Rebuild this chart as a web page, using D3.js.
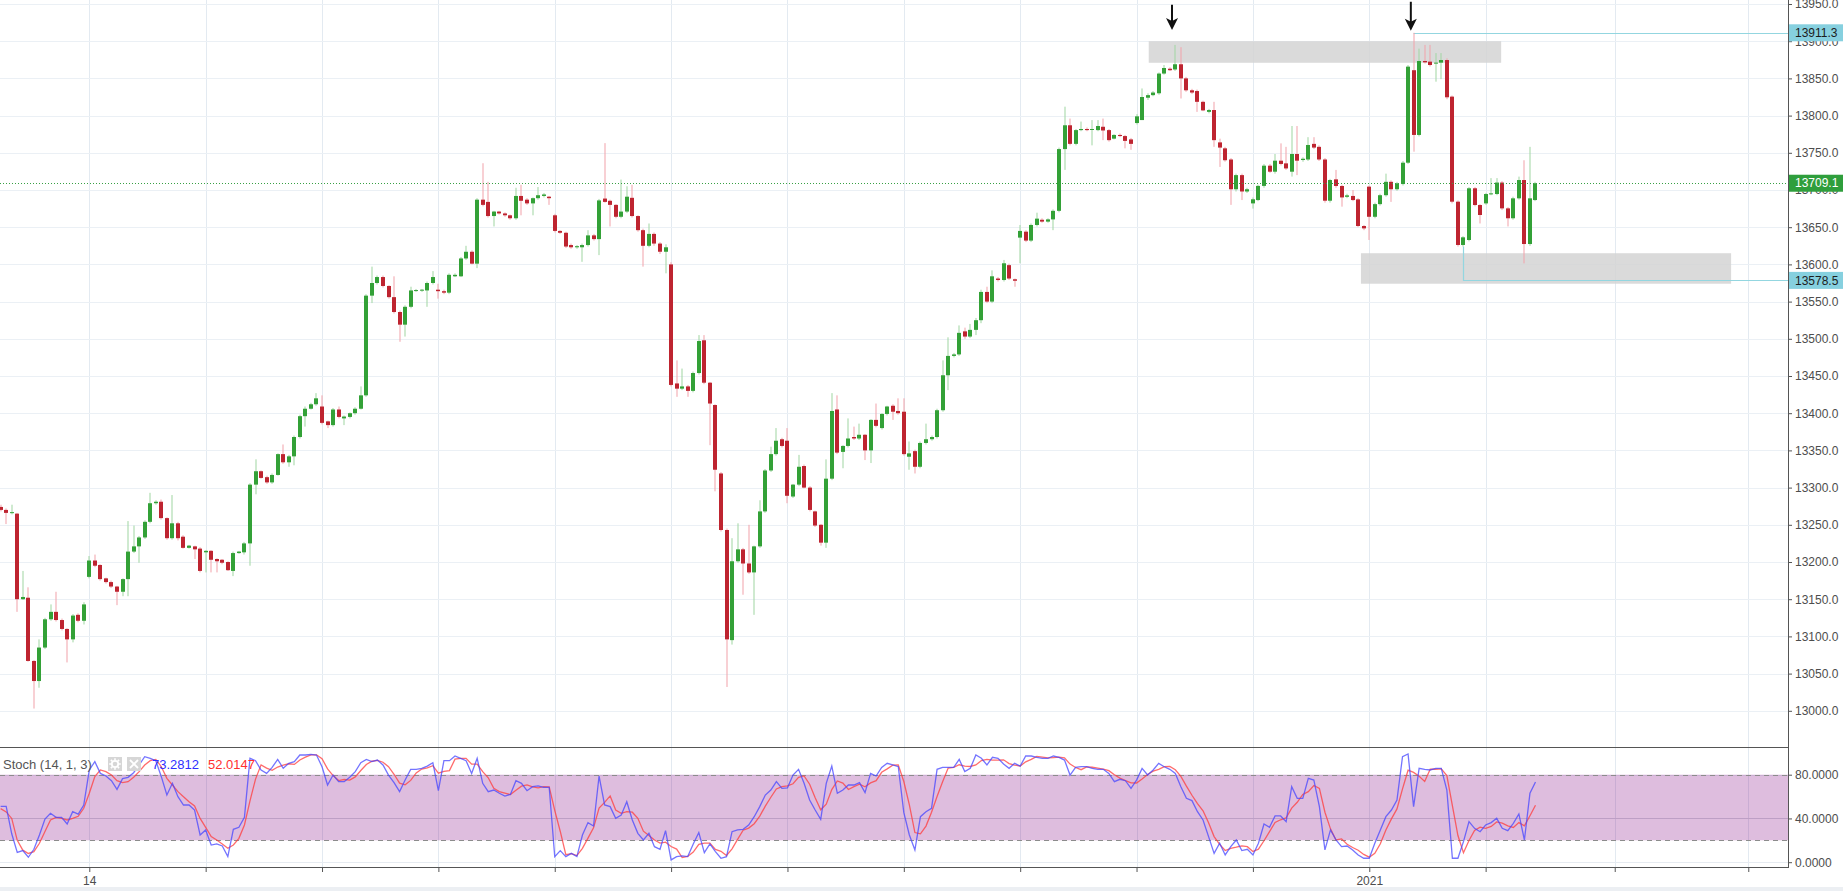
<!DOCTYPE html>
<html><head><meta charset="utf-8">
<script src="https://cdn.jsdelivr.net/npm/d3@7"></script>
<style>html,body{margin:0;padding:0;background:#fff;overflow:hidden}svg{display:block}</style>
</head><body>
<svg id="c" width="1843" height="891"></svg>
<script>
// ---------- DATA (hourly candles) ----------
const open = [
13274,13270,13266,13265,13150,13152,13067,13040,13085,13123,
13133,13122,13110,13096,13129,13121,13180,13202,13196,13178,
13173,13167,13160,13177,13214,13221,13233,13254,13279,13281,
13259,13232,13252,13234,13219,13221,13218,13213,13215,13204,
13203,13200,13188,13212,13213,13225,13304,13322,13314,13307,
13317,13345,13334,13342,13368,13396,13406,13412,13409,13389,
13384,13405,13393,13395,13400,13406,13424,13558,13575,13583,
13571,13556,13536,13519,13543,13565,13565.5,13565,13575,13566,
13564,13562,13584,13584,13608,13617,13601,13687,13684,13665,
13671,13668.5,13666,13662,13692,13687,13682,13689,13692,13691,
13666,13645,13642.5,13626,13623,13623,13626,13639,13634,13688.5,
13685.5,13680,13664,13671,13689.5,13665,13646,13625,13641,13628,
13617,13600,13440,13433,13436,13430,13454,13498,13441,13411,
13319,13243,13095,13201,13217,13198,13186,13221,13268,13323,
13345,13365,13363,13288,13304,13329,13300,13268,13250,13226,
13312,13405,13348,13356,13368,13366,13371,13350,13391,13380,
13399,13410,13403,13402,13341.5,13349,13328,13360,13365,13368,
13404,13451,13477,13479,13510,13503,13512,13525,13563,13550,
13581,13579,13599,13580,13636,13644,13632,13653,13660,13657.5,
13660.5,13672,13755,13787,13762,13780.5,13782,13781,13780.5,13785,
13780.5,13769,13774,13772.5,13768,13790,13794,13824,13827.5,13830,
13856.5,13863,13862,13869,13850,13834,13833,13818.5,13805,13807.5,
13764,13756,13741,13701,13720,13698,13682,13686.5,13705.5,13732.7,
13724.6,13739.4,13735.8,13724.6,13748.4,13740.3,13741,13762,13758,13741,
13685.6,13714.3,13705.4,13690.8,13692,13687.4,13651.6,13704.5,13664,13681,
13693,13711,13701,13708,13736.7,13861,13774,13873.4,13872.5,13870.3,
13871.2,13874.7,13825.5,13684.3,13626.1,13632.8,13702.3,13679.8,13682,13694.6,
13694.6,13710,13675.3,13662,13688.8,13713.4,13627.4,13686.5];
const high = [
13277,13272,13277,13266,13188,13166,13068,13096,13125,13143,
13160,13124,13111,13130,13131,13146,13208,13210,13197,13179,
13175,13168,13178,13255,13249,13235,13256,13293,13283,13284,
13260,13290,13254,13236,13223,13222,13220,13216,13216,13205,
13204,13201,13214,13215,13227,13306,13338,13323,13316,13319,
13346,13358,13344,13370,13398,13409,13414,13427,13424,13390,
13407,13409,13397,13401,13408,13436,13560,13597,13585,13585,
13572,13584,13538,13545,13570,13567,13567,13577,13591,13574,
13566,13588,13588,13610,13625,13619,13689,13736,13711,13672,
13672,13670,13667,13703,13707,13689,13690,13704,13696,13692,
13668,13646,13644,13628,13626,13628,13646,13641,13688,13763,
13687,13681,13714,13705,13707,13666,13648,13655,13643,13630,
13627,13603,13471,13460,13438,13456,13505,13505,13442,13412,
13321,13245,13232,13252,13219,13250,13222,13283,13325,13355,
13380,13367,13380,13305,13344,13331,13302,13269,13251,13338,
13427,13424,13357,13393,13382,13386,13372,13392,13413,13400,
13410,13412,13420,13420,13362,13351,13362,13386,13370,13406,
13471,13502,13481,13518,13515,13520,13528,13566,13570,13592,
13583,13606,13601,13581,13653,13646,13655,13669.5,13662,13662,
13674,13757,13812,13796,13782,13792,13784,13794,13794,13796,
13782,13775,13776,13774,13770,13802,13836.5,13830,13833,13858,
13868,13865,13895,13892,13852,13836,13835,13820,13809,13818.5,
13769,13758,13743,13722,13722,13703,13690,13707,13735,13735,
13748.4,13762.7,13758,13786,13786,13744,13771,13771,13760,13743,
13715,13727,13707,13695,13700,13689,13653,13706,13683,13695,
13722,13713,13711,13739,13868,13911.3,13890,13895,13895,13884,
13884,13877,13827,13686,13638,13704,13704,13681,13696,13716,
13716,13712,13677,13691,13718,13740,13758,13711];
const low = [
13268,13251,13264,13133,13149,13066,13003,13031,13083,13121,
13120,13108,13065,13092,13119,13116,13178,13193,13175,13171,
13165,13142,13154,13154,13212,13199,13231,13252,13277,13257,
13230,13230,13229,13218,13218,13204,13186,13186,13186,13186,
13197,13188,13181,13211,13210,13195,13291,13312,13305,13305,
13316,13332,13328,13330,13366,13382,13405,13410,13385,13380,
13382,13393,13384,13393,13398,13405,13422,13548,13573,13569,
13554,13534,13496,13503,13541,13563,13563,13543,13573,13554,
13560,13560,13583,13583,13606,13600,13595,13678,13663,13651,
13667,13664,13660,13660,13666,13680,13666,13687,13690,13680,
13643,13641,13622,13621,13621,13603.5,13624,13632,13612.5,13683,
13651,13662,13662,13669,13663,13644,13597,13623,13625,13614,
13588,13436,13422,13431,13422,13428,13452,13439,13357,13295,
13241,13032,13089,13199,13156,13184,13129,13219,13266,13321,
13343,13354,13279,13286,13302,13299,13268,13247,13222,13219,
13310,13345,13326,13354,13364,13364,13337,13333,13381,13378,
13397,13391,13398,13343,13324,13319,13326,13358,13363,13366,
13402,13431,13475,13477,13500,13501,13505,13521,13548,13548,
13577,13577,13579,13570,13601.5,13630,13630,13651,13656,13656,
13646,13670,13727,13760,13760,13779,13779,13760,13779,13767,
13765,13768,13771,13756,13754,13788,13794,13821,13826,13828,
13855,13860,13860,13823,13832,13829,13805,13806,13803,13758,
13731,13738,13680,13698,13686.5,13696,13675,13685,13703,13723,
13722,13733,13727,13718,13720,13738,13739,13755,13739,13683,
13683,13703,13677.6,13689,13685,13650,13646,13632.8,13662,13679,
13691,13684,13699,13706,13735,13751.5,13772,13870,13866,13845.6,
13849,13822,13682,13624,13624,13631,13678,13655,13680,13693,
13693,13673,13651,13660,13687,13601.4,13625,13685];
const close = [
13270,13266,13267,13150,13153,13067,13040,13085,13123,13133,
13122,13110,13096,13128,13121,13143,13202,13195,13177,13173,
13167,13160,13177,13214,13221,13233,13254,13279,13281,13259,
13232,13252,13232,13219,13222,13217,13188,13215,13203,13201,
13199,13189,13212,13214,13225,13304,13322,13313,13307,13317,
13345,13334,13342,13368,13396,13406,13412,13420,13387,13384,
13405,13395,13395.5,13400,13406,13424,13558,13575,13583,13571,
13556,13536,13519,13543,13565,13565.5,13566,13575,13583,13564,
13562,13586,13586,13608,13617,13601,13687,13680,13665,13671,
13668.5,13666,13662,13692,13685.5,13682,13689,13693,13694,13689,
13645,13642.5,13624,13623,13624.5,13626,13639,13634,13686,13684,
13680,13664,13671,13691,13665,13646,13625,13641,13628,13617,
13623,13438,13433,13436,13430,13454,13497,13441,13413,13324,
13243,13096,13201,13217,13198,13186,13221,13268,13323,13345,
13363,13356,13289,13304,13328,13300,13270,13249,13226,13312,
13403,13347,13356,13366,13366,13371,13350,13391,13383,13399,
13409,13402,13400,13345,13346,13328,13360,13365,13368,13404,
13451,13477,13479,13508,13503,13512,13525,13563,13550,13584,
13579,13601.5,13581,13578,13645,13632,13653,13661.5,13657.5,13660.5,
13672,13755,13787,13762,13780.5,13782,13780.5,13782,13786,13780,
13767,13774,13772.5,13766,13762,13799,13825,13827.5,13831,13856.5,
13864,13861,13869,13850,13834,13831,13818.5,13807,13807.5,13767,
13757,13740,13701,13720,13698,13701,13687.5,13705.5,13732.7,13724.6,
13739.4,13735,13729,13748.4,13739.4,13742,13760.5,13757,13741,13685.6,
13713.4,13705.4,13690,13692.8,13686.5,13651.6,13648.4,13664,13681,13693,
13711,13701,13709,13736.7,13865.8,13774,13873.4,13871.6,13868,13871.2,
13874.7,13824.6,13684.3,13626.1,13636.4,13702.3,13679.8,13666.4,13694.6,13695.5,
13710,13675.3,13662,13688.8,13713.4,13627.4,13688.8,13709.1];
const stochK = [
51,51,26,9,10.6,4.5,11.8,24.9,39.5,44.7,
41,41,35,46.2,44,52.3,84.3,91.9,81.2,78.8,
74.5,66.6,76.4,77.6,81.8,88.9,96.5,95,92.8,78.2,
61.4,72.1,59.9,52.3,52.3,47.7,24.9,29.5,15.7,16.7,
14.8,5.1,30.1,31.9,41,95,92.8,84.3,81.2,86.7,
94,85.8,90.4,91.9,98,98,98.6,98,87.3,70.6,
79.7,73.6,73.6,77.6,82.8,91,94,91.9,93.4,88.9,
79.7,72.7,64.5,75.1,84.9,84.9,85.8,87.9,91,65.4,
92.8,92.8,97.1,95,92.8,81.2,95,72.1,64.5,66,
63,60.5,62,74.5,72.1,65.4,69,69.7,68.5,68.5,
5.1,10.6,5.1,8.1,5.1,24.9,36.2,33.1,78.8,52.3,
50.8,40.1,43.2,55.3,38.6,26.4,20.3,26.4,14.2,11.8,
28.9,2.1,5.1,5.7,5.1,16.7,27.1,8.7,16.7,9.7,
3.6,5,27.9,29.5,30.1,34,41.6,50.8,61.4,66,
73.6,67.5,68,79.7,84.9,72.1,56.9,47.7,39.2,72.1,
87.9,63,66,70.6,70.6,72.7,63.6,81.2,78.8,86.7,
90.4,88.9,87.3,45.3,24.9,11.2,41.6,46.2,49.3,84.9,
86.7,86.7,86.7,94,82.8,85.8,98,95,88.9,95.9,
95,89.8,85.8,90.4,87.9,97.1,97.1,95.9,95,95,
97.1,95.9,93.4,79.7,86.7,87.3,87.3,85.8,84.9,84.9,
81.2,73.6,75.8,74.5,67.5,75.1,85.8,79.7,84.3,90.4,
87.3,84.9,81.2,69,58.4,56.3,46.2,38.6,23.4,8.1,
17.3,6.6,14.2,20.3,10.6,11.8,6.6,17.3,34.9,31.9,
42.3,42.3,37.1,69,58.4,58.4,76.7,75.1,50.8,11.2,
29.5,20.3,14.2,14.8,11.2,6.6,3.6,3.6,17.3,29.5,
41.6,47.7,56.9,96.5,98.9,50.8,85.8,84.9,84.3,85.8,
85.8,66,3.6,3.6,18.8,37.1,31,27.9,34,36.2,
40.1,31,28.9,35.5,44.1,20.3,63,73.2812];
const stochD = [
49,46,40,20,11,8,9.7,17.3,28,38.6,
41,40,38.6,40,42,49.3,63,78.2,84.3,82.8,
79.7,74.5,72.7,73.6,77.6,82.8,88.9,92.8,94,87.3,
76.7,70.6,64.5,59.9,55.3,51.4,40,31.9,23.4,20.3,
16.7,12.7,15.7,21.8,34,56,76,89,86,84,
87,88.8,90,89.4,93.4,96,98.2,98.2,94.6,85.3,
79.2,74.6,75.6,75,78,83.8,89.3,92.3,93.1,91.4,
87.3,80.4,72.3,70.8,74.8,81.6,85.2,86.2,88.2,81.4,
83,83.7,94.2,95,95,89.7,89.7,82.8,77.2,67.5,
64.5,63.2,61.8,65.7,69.5,70.7,68.8,68,69,68.9,
47.4,28.1,6.9,7.9,6.1,12.7,22,31.4,49.4,54.7,
60.6,47.7,44.7,46.2,45.7,40.1,28.4,24.4,20.3,17.5,
18.3,14.3,12,4.3,5.3,9.2,16.3,17.5,17.5,11.7,
10,6.1,12.2,20.8,29.2,31.2,35.2,42.1,51.3,59.4,
67,69,69.7,71.7,77.5,78.9,71.3,58.9,47.9,53,
66.4,74.3,72.3,66.5,69.1,71.3,69,72.5,74.5,82.2,
85.3,88.7,88.9,73.8,52.5,27.1,25.9,33,45.7,60.1,
73.6,86.1,86.7,89.1,87.8,87.5,88.9,92.9,94,93.3,
93.3,93.6,90.2,88.7,88,91.8,94,96.7,96,95.3,
95.7,96,95.5,89.7,86.6,84.6,87.1,86.8,86,85.2,
83.7,79.9,76.9,74.6,72.6,72.4,76.1,80.2,83.3,84.8,
87.3,87.5,84.5,78.4,69.5,61.2,53.6,47,36.1,23.4,
16.3,10.7,12.7,13.7,15,14.2,9.7,11.9,19.6,28,
36.4,38.8,40.6,49.5,54.8,61.9,64.5,70.1,67.5,45.7,
30.5,20.3,21.3,16.4,13.4,10.9,7.1,4.6,8.2,16.8,
29.5,39.6,48.7,67,84.1,82.1,78.5,73.8,85,85,
85.3,79.2,51.8,24.4,8.7,19.8,29,32,31,32.7,
36.8,35.8,33.3,31.8,36.2,33.3,42.5,52.0147];

const priceTicks = d3.range(13000, 13951, 50);
const stochTicks = [0, 40, 80];
const stochBand = [20, 80];
// bar index where each trading day starts (last two are in the empty future area)
const dayStarts = [16,37,58,79,100,121,142,163,184,205,226,247,268,291.3,315.4];
const dayLabels = {16: "14", 247: "2021"};
// drawn annotations (bar index range, price range)
const zones = [{i0:207.2, i1:270.8, p0:13900, p1:13871},
               {i0:245.5, i1:312.3, p0:13615, p1:13574}];
const arrows = [{i:211.4, top:13949, tip:13915}, {i:254.5, top:13953, tip:13914}];
const highMark = {i:255, p:13911.3};
const lowMark = {i:264, from:13624, p:13578.5};
const lastPrice = 13709.1;
const stochLast = {k:"73.2812", d:"52.0147"};

// ---------- LAYOUT ----------
const axisX = 1788, mainBottom = 747, stochBottom = 867;
const FONT = '"Liberation Sans", Arial, sans-serif';
const svg = d3.select('#c');

const x = d3.scaleLinear().domain([0, 277]).range([0.64, 0.64 + 277 * 5.541]);
const y = d3.scaleLinear().domain([13000, 13950]).range([710.8, 4]);
const ys = d3.scaleLinear().domain([0, 80]).range([862.2, 774.7]);

const defs = svg.append('defs');
defs.append('clipPath').attr('id', 'clipMain').append('rect')
  .attr('x', 0).attr('y', 0).attr('width', axisX).attr('height', mainBottom);
defs.append('clipPath').attr('id', 'clipStoch').append('rect')
  .attr('x', 0).attr('y', mainBottom).attr('width', axisX).attr('height', stochBottom - mainBottom);

svg.append('rect').attr('width', 1843).attr('height', 891).attr('fill', '#fff');

// grid
const grid = svg.append('g');
grid.selectAll('.vg').data(dayStarts).join('line').attr('class', 'vg')
  .attr('x1', d => Math.round(x(d)) + 0.5).attr('x2', d => Math.round(x(d)) + 0.5)
  .attr('y1', 0).attr('y2', stochBottom).attr('stroke', '#e3eaf1');
grid.selectAll('.hg').data(priceTicks).join('line').attr('class', 'hg')
  .attr('x1', 0).attr('x2', axisX)
  .attr('y1', d => Math.round(y(d)) + 0.5).attr('y2', d => Math.round(y(d)) + 0.5)
  .attr('stroke', '#ebf0f5');
grid.selectAll('.sg').data(stochTicks).join('line').attr('class', 'sg')
  .attr('x1', 0).attr('x2', axisX)
  .attr('y1', d => Math.round(ys(d)) + 0.5).attr('y2', d => Math.round(ys(d)) + 0.5)
  .attr('stroke', '#e6ebf1');

// stoch band
const sp = svg.append('g').attr('clip-path', 'url(#clipStoch)');
sp.append('rect').attr('x', 0).attr('width', axisX)
  .attr('y', ys(stochBand[1])).attr('height', ys(stochBand[0]) - ys(stochBand[1]))
  .attr('fill', 'rgba(128,0,128,0.26)');
sp.append('line').attr('x1', 0).attr('x2', axisX)
  .attr('y1', Math.round(ys(40)) + 0.5).attr('y2', Math.round(ys(40)) + 0.5)
  .attr('stroke', 'rgba(90,60,100,0.12)');
sp.selectAll('.band').data(stochBand).join('line').attr('class', 'band')
  .attr('x1', 0).attr('x2', axisX)
  .attr('y1', d => Math.round(ys(d)) + 0.5).attr('y2', d => Math.round(ys(d)) + 0.5)
  .attr('stroke', '#8c8c8c').attr('stroke-dasharray', '5,4');

// main pane
const mp = svg.append('g').attr('clip-path', 'url(#clipMain)');
mp.selectAll('.zone').data(zones).join('rect').attr('class', 'zone')
  .attr('x', d => x(d.i0)).attr('width', d => x(d.i1) - x(d.i0))
  .attr('y', d => y(d.p0)).attr('height', d => y(d.p1) - y(d.p0))
  .attr('fill', '#d4d4d4').attr('opacity', 0.85);

const cyan = '#93d6e0';
mp.append('line').attr('x1', x(highMark.i)).attr('x2', axisX)
  .attr('y1', Math.round(y(highMark.p)) + 0.5).attr('y2', Math.round(y(highMark.p)) + 0.5)
  .attr('stroke', cyan).attr('stroke-width', 1.2);
mp.append('path')
  .attr('d', `M${Math.round(x(lowMark.i)) + 0.5},${y(lowMark.from)}V${Math.round(y(lowMark.p)) + 0.5}H${axisX}`)
  .attr('fill', 'none').attr('stroke', cyan).attr('stroke-width', 1.2);

const idx = d3.range(open.length);
const up = i => close[i] >= open[i];
const bx = i => Math.round(x(i) - 2);
mp.selectAll('.wick').data(idx).join('rect').attr('class', 'wick')
  .attr('x', i => bx(i) + 1.5).attr('width', 1)
  .attr('y', i => y(high[i])).attr('height', i => Math.max(1, y(low[i]) - y(high[i])))
  .attr('fill', i => up(i) ? '#9fd6a1' : '#f2a2aa');
mp.selectAll('.body').data(idx).join('rect').attr('class', 'body')
  .attr('x', i => bx(i)).attr('width', 4)
  .attr('y', i => y(Math.max(open[i], close[i])))
  .attr('height', i => Math.max(1, Math.abs(y(open[i]) - y(close[i]))))
  .attr('fill', i => up(i) ? '#33a137' : '#be2430');

mp.append('line').attr('x1', 0).attr('x2', axisX)
  .attr('y1', Math.round(y(lastPrice)) + 0.5).attr('y2', Math.round(y(lastPrice)) + 0.5)
  .attr('stroke', '#38a044').attr('stroke-dasharray', '1,2');

// arrows
const ag = mp.selectAll('.arrow').data(arrows).join('g').attr('class', 'arrow');
ag.append('line').attr('x1', d => x(d.i)).attr('x2', d => x(d.i))
  .attr('y1', d => y(d.top)).attr('y2', d => y(d.tip) - 8)
  .attr('stroke', '#111').attr('stroke-width', 2);
ag.append('path')
  .attr('d', d => `M${x(d.i) - 6},${y(d.tip) - 12}L${x(d.i)},${y(d.tip) - 9}L${x(d.i) + 6},${y(d.tip) - 12}L${x(d.i)},${y(d.tip)}Z`)
  .attr('fill', '#111');

// stoch lines
const lineK = d3.line().x(i => x(i)).y(i => ys(stochK[i]));
const lineD = d3.line().x(i => x(i)).y(i => ys(stochD[i]));
sp.append('path').attr('d', lineD(idx)).attr('fill', 'none')
  .attr('stroke', '#ff3b3b').attr('stroke-opacity', 0.75).attr('stroke-width', 1.3);
sp.append('path').attr('d', lineK(idx)).attr('fill', 'none')
  .attr('stroke', '#4646ff').attr('stroke-opacity', 0.75).attr('stroke-width', 1.3);

// axes
const axCol = '#555';
const pa = svg.append('g').attr('transform', `translate(${axisX},0)`)
  .call(d3.axisRight(y).tickValues(priceTicks).tickFormat(d3.format('.1f')).tickSize(4).tickPadding(3));
const sa = svg.append('g').attr('transform', `translate(${axisX},0)`)
  .call(d3.axisRight(ys).tickValues(stochTicks).tickFormat(d3.format('.4f')).tickSize(4).tickPadding(3));
const xa = svg.append('g').attr('transform', `translate(0,${stochBottom})`)
  .call(d3.axisBottom(x).tickValues(dayStarts).tickFormat(d => dayLabels[d] || '').tickSize(5).tickPadding(4));
[pa, sa, xa].forEach(g => {
  g.select('.domain').remove();
  g.selectAll('line').attr('stroke', axCol);
  g.selectAll('text').attr('fill', '#4d4d4d').style('font-family', FONT).style('font-size', '12px');
});

svg.append('line').attr('x1', axisX + 0.5).attr('x2', axisX + 0.5).attr('y1', 0).attr('y2', stochBottom)
  .attr('stroke', axCol);
svg.append('line').attr('x1', 0).attr('x2', axisX).attr('y1', mainBottom + 0.5).attr('y2', mainBottom + 0.5)
  .attr('stroke', axCol);
svg.append('line').attr('x1', 0).attr('x2', axisX + 1).attr('y1', stochBottom + 0.5).attr('y2', stochBottom + 0.5)
  .attr('stroke', axCol);
svg.append('rect').attr('x', 0).attr('y', 887).attr('width', 1843).attr('height', 4).attr('fill', '#eceff3');

// price labels on the axis
const tags = [
  {p: highMark.p, fill: '#86d0df', color: '#1d1d1d'},
  {p: lastPrice, fill: '#2f9e3c', color: '#ffffff'},
  {p: lowMark.p, fill: '#86d0df', color: '#1d1d1d'}];
const tg = svg.selectAll('.tag').data(tags).join('g').attr('class', 'tag');
tg.append('rect').attr('x', axisX + 1).attr('width', 55)
  .attr('y', d => y(d.p) - 8.5).attr('height', 17).attr('fill', d => d.fill);
tg.append('text').attr('x', axisX + 7).attr('y', d => y(d.p)).attr('dy', '0.35em')
  .attr('fill', d => d.color).style('font-family', FONT).style('font-size', '12px')
  .text(d => d3.format('.1f')(d.p));

// stoch header
const hd = svg.append('g');
hd.append('text').attr('x', 3).attr('y', 769).attr('fill', '#555')
  .style('font-family', FONT).style('font-size', '13px').text('Stoch (14, 1, 3)');
hd.append('rect').attr('x', 108).attr('y', 757).attr('width', 14).attr('height', 14).attr('fill', '#d6d6d6');
hd.append('circle').attr('cx', 115).attr('cy', 764).attr('r', 3.2).attr('fill', 'none')
  .attr('stroke', '#fff').attr('stroke-width', 1.8);
hd.selectAll('.tooth').data(d3.range(8)).join('line').attr('class', 'tooth')
  .attr('x1', a => 115 + Math.cos(a * Math.PI / 4) * 4).attr('y1', a => 764 + Math.sin(a * Math.PI / 4) * 4)
  .attr('x2', a => 115 + Math.cos(a * Math.PI / 4) * 5.8).attr('y2', a => 764 + Math.sin(a * Math.PI / 4) * 5.8)
  .attr('stroke', '#fff').attr('stroke-width', 1.6);
hd.append('rect').attr('x', 127).attr('y', 757).attr('width', 14).attr('height', 14).attr('fill', '#d6d6d6');
hd.append('path').attr('d', 'M130,760L138,768M138,760L130,768').attr('stroke', '#fff').attr('stroke-width', 1.8);
hd.append('text').attr('x', 152).attr('y', 769).attr('fill', '#2f2fff')
  .style('font-family', FONT).style('font-size', '13px').text(stochLast.k);
hd.append('text').attr('x', 208).attr('y', 769).attr('fill', '#ff2f2f')
  .style('font-family', FONT).style('font-size', '13px').text(stochLast.d);
</script>
</body></html>
